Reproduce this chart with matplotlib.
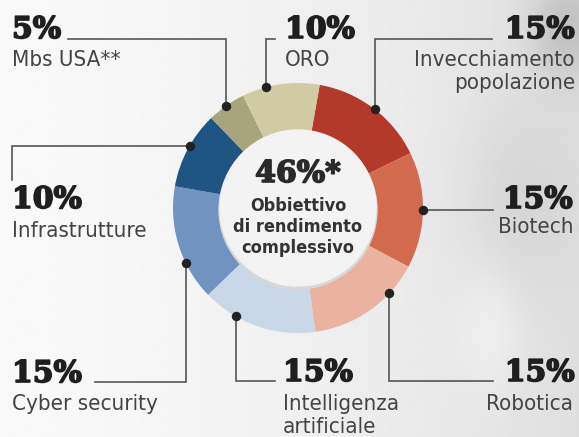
import os
import numpy as np
import matplotlib.pyplot as plt
from matplotlib.patches import Circle
from matplotlib import font_manager as fm
from matplotlib import patheffects as pe

W, H = 579, 437

# data
names = ["Invecchiamento\npopolazione", "Biotech", "Robotica", "Intelligenza\nartificiale",
         "Cyber security", "Infrastrutture", "Mbs USA**", "ORO"]
shares = [15, 15, 15, 15, 15, 10, 5, 10]
pct_labels = ["15%", "15%", "15%", "15%", "15%", "10%", "5%", "10%"]
colors = ["#b3392b", "#d26b4d", "#e9b39f", "#cad7e7", "#7093bf", "#1f5583", "#a8a47b", "#d1cba3"]
total_label = "46%*"
center_text = "Obbiettivo\ndi rendimento\ncomplessivo"

# layout (pixels, y downward)
cx, cy, R, r_in = 298, 208, 125, 78
dot_deg = [38, 91, 133, 210, 244, 300, 325, 345]
# ('v', elbow_y, end_x): up/down first then sideways; ('h', elbow_x, end_y)
paths = [("v", 39, 492), ("h", 493, None), ("v", 381, 493), ("v", 381, 275),
         ("v", 382, 95), ("h", 12, 180), ("v", 39, 68), ("v", 39, 275)]
pct_pos = [(575, 38, "right"), (573, 208, "right"), (575, 381, "right"), (283, 381, "left"),
           (12, 382, "left"), (12, 208, "left"), (12, 38, "left"), (285, 38, "left")]
name_pos = [(575, 66, "right"), (573, 233, "right"), (573, 410, "right"), (283, 410, "left"),
            (12, 410, "left"), (12, 237, "left"), (12, 66, "left"), (285, 66, "left")]


def find_font(files):
    have = {os.path.basename(f.fname): f.fname for f in fm.fontManager.ttflist}
    for f in files:
        if f in have:
            return fm.FontProperties(fname=have[f])
    return None


narrow = find_font(["LiberationSansNarrow-Regular.ttf", "DejaVuSansCondensed.ttf",
                    "RobotoCondensed-Regular.ttf", "OpenSans_Condensed-Regular.ttf"])
narrow_bold = find_font(["LiberationSansNarrow-Bold.ttf", "DejaVuSansCondensed-Bold.ttf",
                         "RobotoCondensed-Bold.ttf", "OpenSans_Condensed-Bold.ttf"])
name_size, mid_size = 16, 13
if narrow is None:
    narrow = fm.FontProperties(family="DejaVu Sans")
    name_size = 14
if narrow_bold is None:
    narrow_bold = fm.FontProperties(family="DejaVu Sans", weight="bold")
    mid_size = 11.5

fig = plt.figure(figsize=(W / 100, H / 100), dpi=100)
ax = fig.add_axes([0, 0, 1, 1])

# background
xx, yy = np.meshgrid(np.linspace(0, 1, 300), np.linspace(0, 1, 230))
bg = 0.975 - 0.1 * xx ** 1.6
bg -= 0.12 * np.exp(-((xx - 0.98) ** 2 / 0.004 + (yy - 0.06) ** 2 / 0.015))
bg -= 0.05 * np.exp(-((xx - 0.9) ** 2 / 0.01 + (yy - 0.45) ** 2 / 0.05))
bg += 0.04 * np.exp(-((xx - 0.85) ** 2 / 0.003 + (yy - 0.75) ** 2 / 0.02))
ax.imshow(np.clip(bg, 0, 1), cmap="gray", vmin=0, vmax=1, extent=(0, W, 0, H),
          origin="upper", aspect="auto", zorder=0)


def Y(y):
    return H - y


ax.pie(shares, colors=colors, startangle=90 - 10, counterclock=False, radius=R,
       center=(cx, Y(cy)), wedgeprops=dict(width=R - r_in, linewidth=0), frame=True)
ax.add_patch(Circle((cx, Y(cy) - 2), r_in + 1, color="#d8d8d8", zorder=3))
ax.add_patch(Circle((cx, Y(cy)), r_in, color="#f3f3f3", zorder=4))

heavy = [pe.withStroke(linewidth=1.2, foreground="#1f1f1f")]
pct_font = dict(family="DejaVu Serif", weight="heavy", color="#1f1f1f", fontsize=21.5,
                path_effects=heavy)

for i in range(len(shares)):
    a = np.radians(dot_deg[i])
    dx, dy = cx + R * np.sin(a), cy - R * np.cos(a)
    kind, p1, p2 = paths[i]
    if kind == "v":
        pts = [(dx, dy), (dx, p1), (p2, p1)]
    else:
        pts = [(dx, dy), (p1, dy)]
        if p2 is not None:
            pts.append((p1, p2))
    ax.plot([p[0] for p in pts], [Y(p[1]) for p in pts], color="#555555", lw=1.2, zorder=5,
            solid_joinstyle="miter")
    ax.plot(dx, Y(dy), "o", color="#222222", ms=5.8, zorder=6)
    px, py, ha = pct_pos[i]
    ax.text(px, Y(py), pct_labels[i], ha=ha, va="baseline", zorder=7, **pct_font)
    nx, ny, ha = name_pos[i]
    for j, ln in enumerate(names[i].split("\n")):
        ax.text(nx, Y(ny + 23 * j), ln, ha=ha, va="baseline", zorder=7,
                fontproperties=narrow, fontsize=name_size, color="#444444")

ax.text(cx, Y(182), total_label, ha="center", va="baseline", family="DejaVu Serif",
        weight="heavy", color="#2a2a2a", fontsize=21.5, zorder=7,
        path_effects=[pe.withStroke(linewidth=1.2, foreground="#2a2a2a")])
for j, ln in enumerate(center_text.split("\n")):
    ax.text(cx, Y(211 + 21 * j), ln, ha="center", va="baseline", fontproperties=narrow_bold,
            fontsize=mid_size, color="#333333", zorder=7)

ax.set_xlim(0, W)
ax.set_ylim(0, H)
ax.set_aspect("auto")
ax.axis("off")
fig.savefig("out.png", dpi=100)
